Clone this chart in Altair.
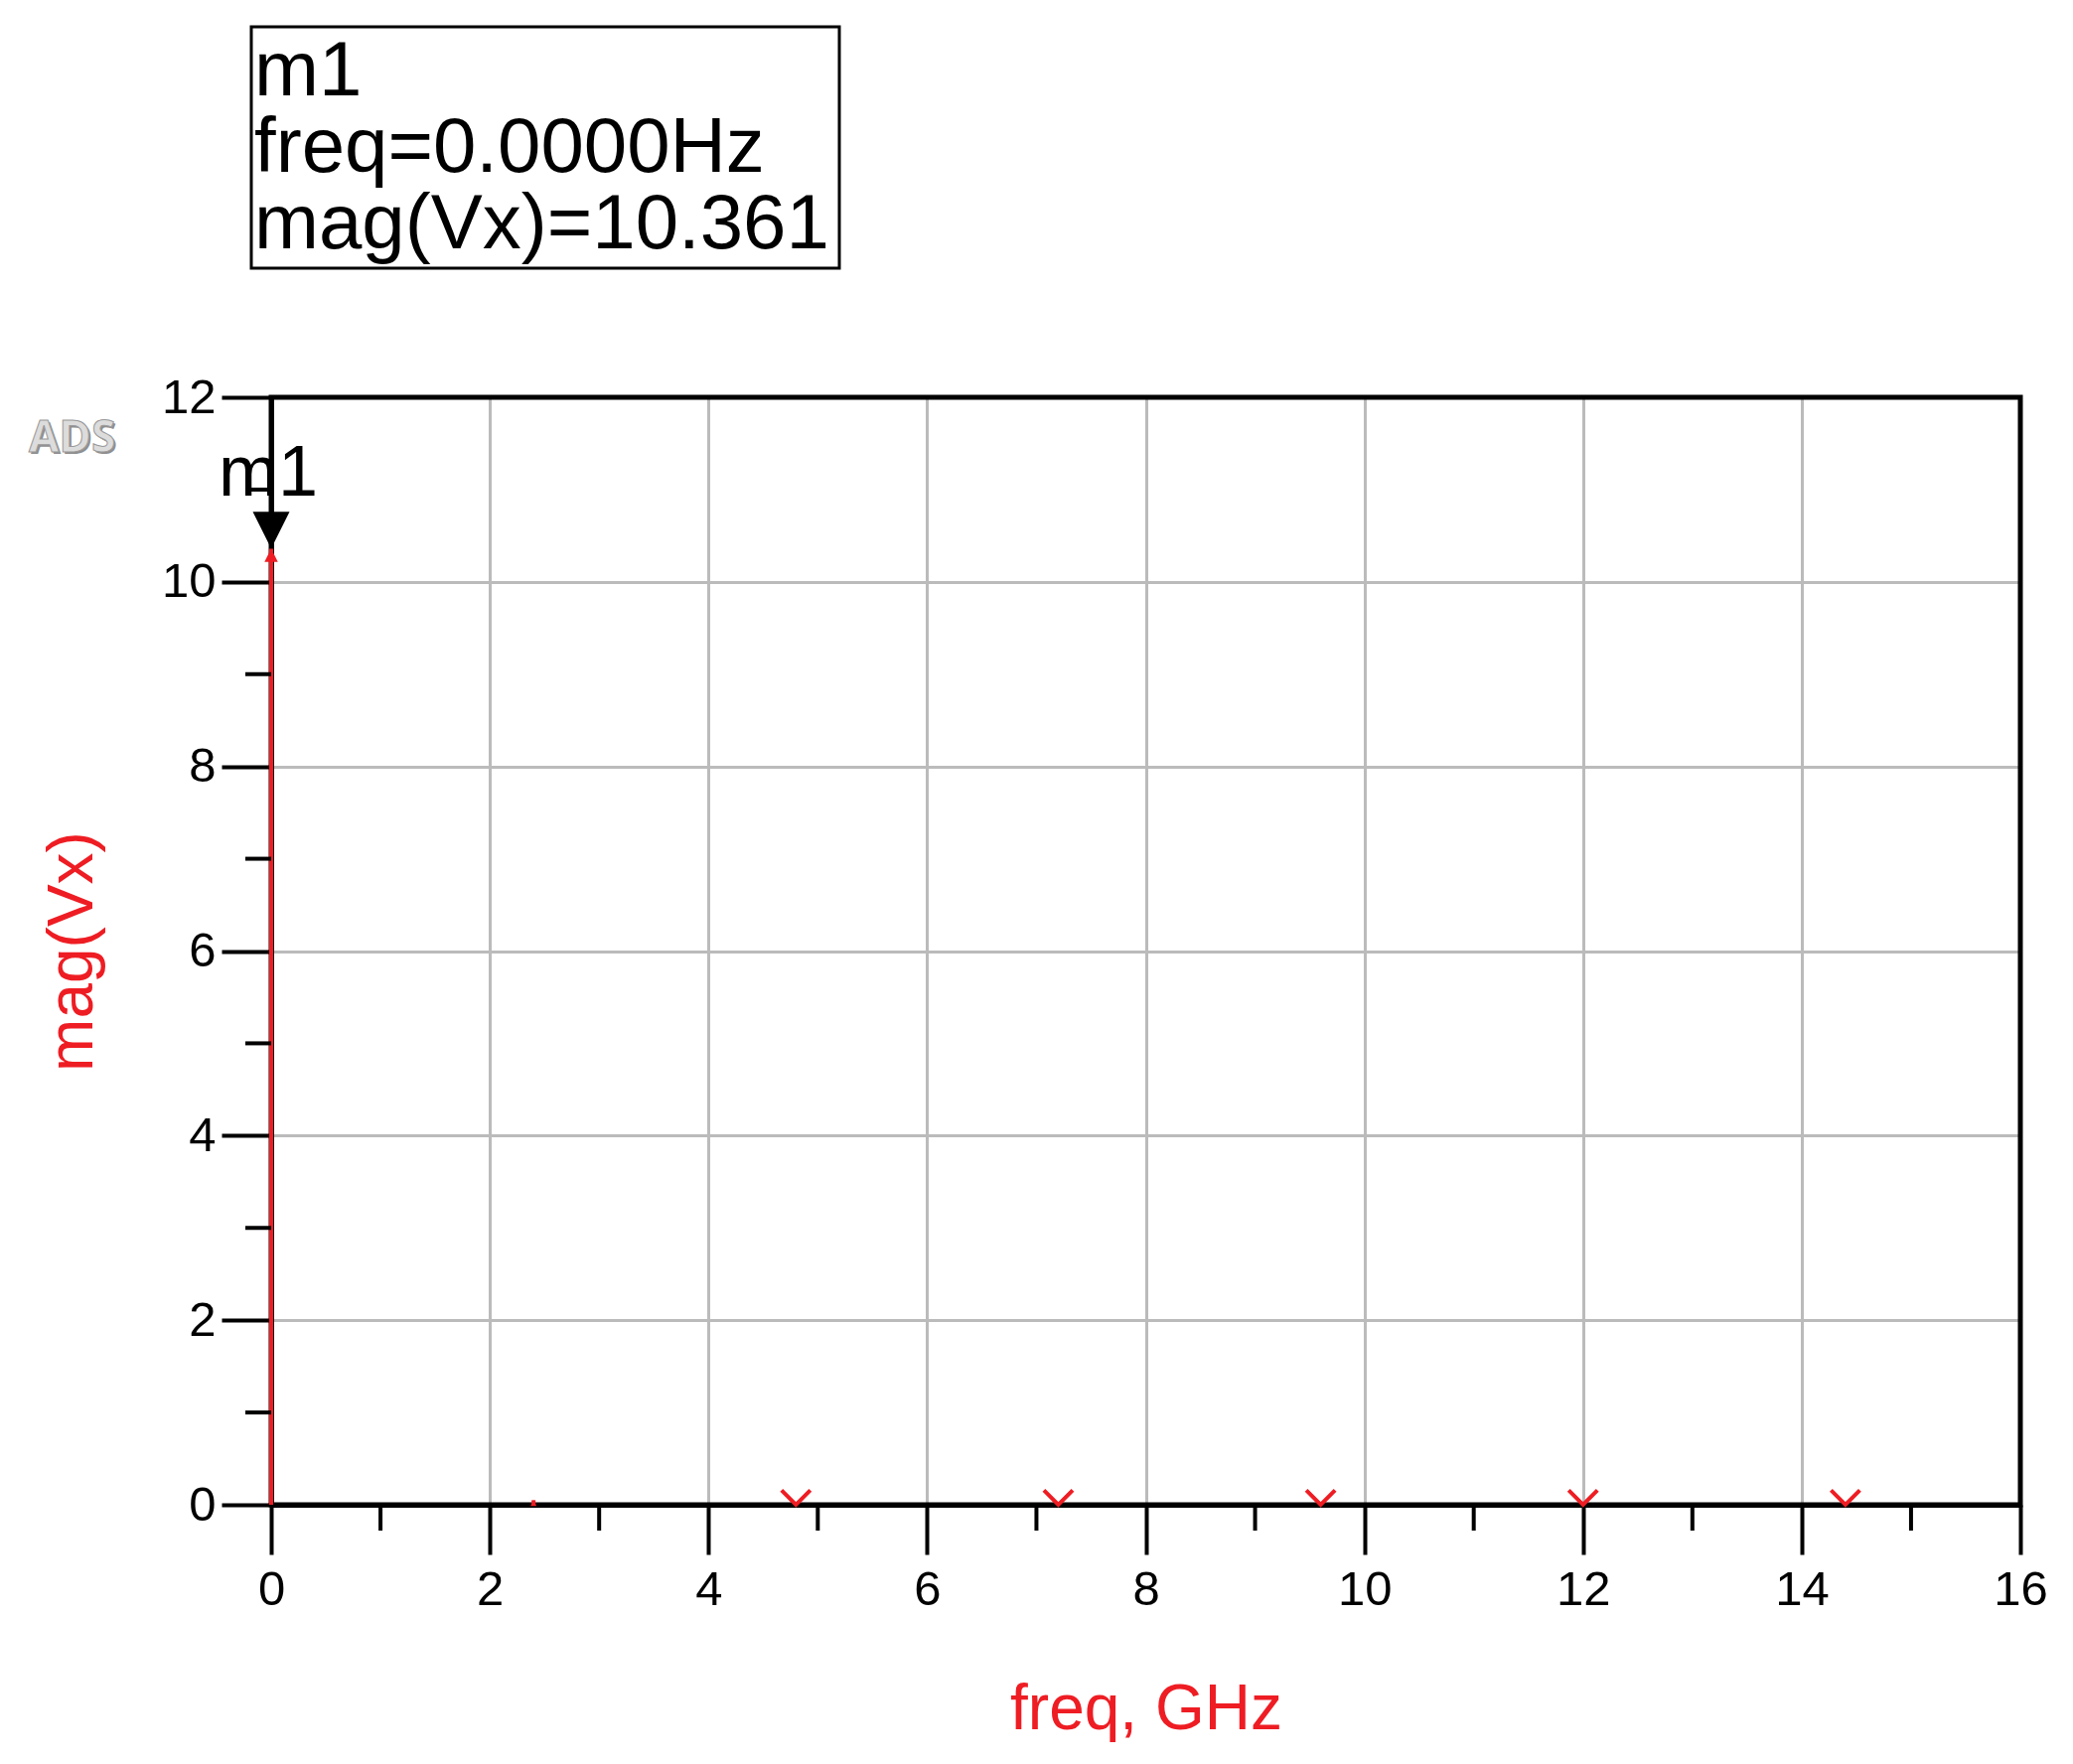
import altair as alt
import pandas as pd

# ---- data ----
freq_ghz = [0.0, 2.4, 4.8, 7.2, 9.6, 12.0, 14.4]
mag_vx = [10.361, 0.05, 0.001, 0.001, 0.001, 0.001, 0.001]
x_major = [0, 2, 4, 6, 8, 10, 12, 14, 16]
x_minor = [1, 3, 5, 7, 9, 11, 13, 15]
y_major = [0, 2, 4, 6, 8, 10, 12]
y_minor = [1, 3, 5, 7, 9, 11]
marker_name = "m1"
marker_freq = 0.0
marker_mag = 10.361
readout_lines = ["m1", "freq=0.0000Hz", "mag(Vx)=10.361"]

RED = "#EE1D23"
FONT = "Liberation Sans"
W, H = 1761, 1115

spec = pd.DataFrame({"freq": freq_ghz, "mag": mag_vx})
spec["base"] = 0.0
big = spec[spec["mag"] > 1]
small = spec[(spec["mag"] <= 1) & (spec["mag"] > 0.01)]
tiny = spec[spec["mag"] <= 0.01]
marker = pd.DataFrame({"freq": [marker_freq], "mag": [marker_mag], "top": [12.0]})
xminor_df = pd.DataFrame({"freq": x_minor})
yminor_df = pd.DataFrame({"mag": y_minor})
one = pd.DataFrame({"a": [0]})

x_scale = alt.Scale(domain=[0, 16], nice=False, zero=False)
y_scale = alt.Scale(domain=[0, 12], nice=False, zero=False)

x_axis = alt.Axis(
    values=x_major, format="d", title="freq, GHz",
    titleColor=RED, titleFont=FONT, titleFontSize=64, titleFontWeight="normal",
    titleY=225, titleBaseline="alphabetic",
    labelFont=FONT, labelFontSize=49, labelColor="black", labelPadding=11,
    labelOverlap=False, labelFlush=False,
    tickSize=50, tickWidth=4, tickColor="black",
    domainColor="black", domainWidth=5,
    grid=True, gridColor="#BBBBBB", gridWidth=3,
)
y_axis = alt.Axis(
    values=y_major, format="d", title="mag(Vx)",
    titleColor=RED, titleFont=FONT, titleFontSize=64, titleFontWeight="normal",
    titleX=-181, titleBaseline="alphabetic", titleAngle=270,
    labelFont=FONT, labelFontSize=49, labelColor="black", labelPadding=6,
    labelOverlap=False, labelFlush=False,
    tickSize=50, tickWidth=4, tickColor="black",
    domainColor="black", domainWidth=5,
    grid=True, gridColor="#BBBBBB", gridWidth=3,
)

X = alt.X("freq:Q", scale=x_scale, axis=x_axis)
Y = alt.Y("mag:Q", scale=y_scale, axis=y_axis)

# plot frame (top / right border)
frame = alt.Chart(one).mark_rect(fill="transparent", stroke="black", strokeWidth=5).encode(
    x=alt.value(0), x2=alt.value(W), y=alt.value(0), y2=alt.value(H)
)

# spectral lines
spikes = alt.Chart(spec).mark_rule(color=RED, strokeWidth=4).encode(
    x=X, y=Y, y2="base:Q"
)

big_head = alt.Chart(big).mark_point(
    shape="M-0.5,1L0.5,1L0,0Z", size=729, filled=True, fill=RED, opacity=1, strokeWidth=0
).encode(x=X, y=Y)

small_head = alt.Chart(small).mark_point(
    shape="M-0.5,1L0.5,1L0,0Z", size=144, filled=True, fill=RED, opacity=1, strokeWidth=0
).encode(x=X, y=Y)

tiny_head = alt.Chart(tiny).mark_point(
    shape="M-1,-1L0,0L1,-1", size=841, filled=False, stroke=RED, opacity=1, strokeWidth=4
).encode(x=X, y=Y)

# minor ticks
x_minor_ticks = alt.Chart(xminor_df).mark_rule(color="black", strokeWidth=4).encode(
    x=X, y=alt.value(H), y2=alt.value(H + 26)
)
y_minor_ticks = alt.Chart(yminor_df).mark_rule(color="black", strokeWidth=4).encode(
    y=Y, x=alt.value(0), x2=alt.value(-26)
)

# marker m1
marker_line = alt.Chart(marker).mark_rule(color="black", strokeWidth=4).encode(
    x=X, y=Y, y2="top:Q"
)
marker_tri = alt.Chart(marker).mark_point(
    shape="M-0.5,-1L0.5,-1L0,0Z", size=5476, filled=True, fill="black", opacity=1, strokeWidth=0
).encode(x=X, y=Y)
marker_label = alt.Chart(marker).mark_text(
    text=marker_name, font=FONT, fontSize=72, color="black",
    align="center", baseline="alphabetic", dx=-3, dy=-53
).encode(x=X, y=Y)

# readout box
box = alt.Chart(one).mark_rect(fill="white", stroke="black", strokeWidth=3).encode(
    x=alt.value(-20), x2=alt.value(572), y=alt.value(-373), y2=alt.value(-130)
)
readout = alt.Chart(one).mark_text(
    text=readout_lines, font=FONT, fontSize=78, color="black",
    align="left", baseline="alphabetic", lineHeight=77
).encode(x=alt.value(-17), y=alt.value(-304))

# ADS logo
ads_shadow = alt.Chart(one).mark_text(
    text="ADS", font="Open Sans", fontSize=44, fontWeight="bold", color="#8f8f8f",
    align="left", baseline="alphabetic"
).encode(x=alt.value(-242), y=alt.value(57))
ads_front = alt.Chart(one).mark_text(
    text="ADS", font="Open Sans", fontSize=44, fontWeight="bold", fill="#dcdcdc",
    stroke="#9a9a9a", strokeWidth=1, align="left", baseline="alphabetic"
).encode(x=alt.value(-244), y=alt.value(55))

chart = alt.layer(
    frame, spikes, x_minor_ticks, y_minor_ticks, small_head, tiny_head, big_head,
    marker_line, marker_tri, marker_label, box, readout, ads_shadow, ads_front
).properties(
    width=W, height=H,
    autosize=alt.AutoSizeParams(type="none"),
    padding={"left": 265, "top": 392, "right": 45, "bottom": 250},
    background="white",
).configure_view(stroke="black", strokeWidth=4)

chart.save("out.html", embed_options={"renderer": "svg", "actions": False})
